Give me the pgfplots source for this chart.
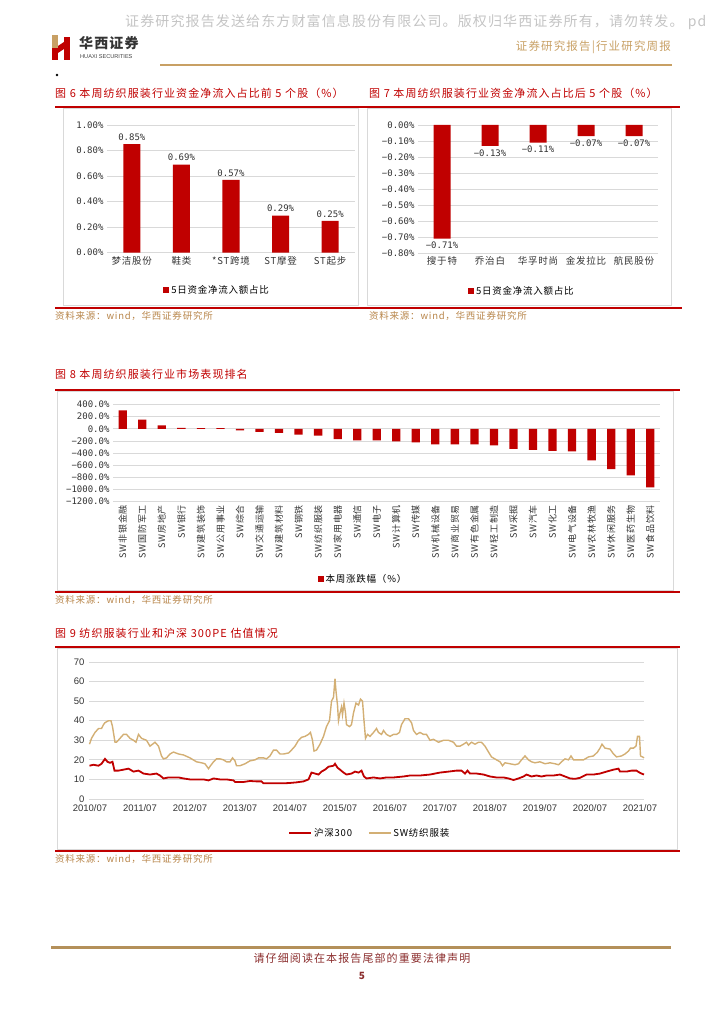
\documentclass[border=0pt]{standalone}
\usepackage{pgfplots}
\pgfplotsset{compat=1.18}
\usepackage{fontspec}
\setmainfont{Noto Sans CJK SC}
\newfontfamily\cjk{Noto Sans CJK SC}[LetterSpace=8]
\newfontfamily\cjkt{Noto Sans CJK SC}[LetterSpace=10]
\newfontfamily\numfont{DejaVu Sans Mono}
\newfontfamily\arialfont{Liberation Sans}
\definecolor{barred}{HTML}{C00000}
\definecolor{titlered}{HTML}{C00000}
\definecolor{linegold}{HTML}{D3AF74}
\definecolor{hgold}{HTML}{C8A064}
\definecolor{srcgold}{HTML}{B8864B}
\definecolor{footred}{HTML}{8B2E2E}
\definecolor{gridgray}{HTML}{D9D9D9}
\definecolor{wmgray}{HTML}{C4C4C4}
\pgfplotsset{
  barbase/.style={
    scale only axis, clip=false,
    axis line style={draw=none},
    major tick length=0pt,
    ymajorgrids, grid style={gridgray, line width=0.8pt},
    ticklabel style={font=\numfont\fontsize{9}{10}\selectfont, text=black!80},
    xticklabel style={font=\cjk\fontsize{9.5}{10}\selectfont},
    legend style={draw=none, fill=none, font=\cjk\fontsize{9.5}{10}\selectfont},
    legend cell align=left,
  },
  sqleg/.style={legend image code/.code={\fill[barred] (0pt,-3pt) rectangle (6pt,3pt);}},
}
\begin{document}
\begin{tikzpicture}[x=1pt,y=1pt]
\path[use as bounding box] (0,0) rectangle (724,1024);
% header
\node[anchor=west, inner sep=0, text=wmgray, font=\cjk\fontsize{14}{15}\selectfont] at (125,1002) {证券研究报告发送给东方财富信息股份有限公司。版权归华西证券所有，请勿转发。 pd};
\fill[hgold] (52,989) rectangle (58,976);
\fill[barred] (52,976) rectangle (58,964);
\fill[barred] (58,978) -- (64,982) -- (64,975) -- (58,971) -- cycle;
\fill[barred] (64,987) rectangle (70,964);
\node[anchor=west, inner sep=0, text=black!80, font=\cjk\bfseries\fontsize{14}{15}\selectfont] at (79,981) {华西证券};
\node[anchor=west, inner sep=0, text=black!75, font=\arialfont\fontsize{5.6}{6}\selectfont] at (80,967) {HUAXI SECURITIES};
\node[anchor=east, inner sep=0, text=hgold, font=\cjkt\fontsize{11.5}{12}\selectfont] at (671,977) {证券研究报告|行业研究周报};
\draw[hgold, line width=2.5pt] (160,959) -- (672,959);
\fill (57,949) circle (1.3);
% titles fig 6, 7
\node[anchor=west, inner sep=0, text=titlered, font=\cjkt\fontsize{11}{12}\selectfont] at (55,931) {图 6 本周纺织服装行业资金净流入占比前 5 个股（\%）};
\node[anchor=west, inner sep=0, text=titlered, font=\cjkt\fontsize{11}{12}\selectfont] at (369,931) {图 7 本周纺织服装行业资金净流入占比后 5 个股（\%）};
\draw[gridgray, line width=0.6pt] (63,719) rectangle (358,916);
\draw[gridgray, line width=0.6pt] (367,719) rectangle (671,916);
\draw[barred, line width=1.8pt] (55,917) -- (680,917);
\draw[barred, line width=1.8pt] (55,716) -- (682,716);
\node[anchor=west, inner sep=0, text=srcgold, font=\cjk\fontsize{9.5}{10}\selectfont] at (55,708) {资料来源：wind，华西证券研究所};
\node[anchor=west, inner sep=0, text=srcgold, font=\cjk\fontsize{9.5}{10}\selectfont] at (369,708) {资料来源：wind，华西证券研究所};
% fig 8
\node[anchor=west, inner sep=0, text=titlered, font=\cjkt\fontsize{11}{12}\selectfont] at (55,650) {图 8 本周纺织服装行业市场表现排名};
\draw[gridgray, line width=0.6pt] (57,434) rectangle (673,633);
\draw[barred, line width=1.8pt] (55,634) -- (680,634);
\draw[barred, line width=1.8pt] (55,432) -- (680,432);
\node[anchor=west, inner sep=0, text=srcgold, font=\cjk\fontsize{9.5}{10}\selectfont] at (55,424) {资料来源：wind，华西证券研究所};
% fig 9
\node[anchor=west, inner sep=0, text=titlered, font=\cjkt\fontsize{11}{12}\selectfont] at (55,391) {图 9 纺织服装行业和沪深 300PE 估值情况};
\draw[gridgray, line width=0.6pt] (57,175) rectangle (677,376);
\draw[barred, line width=1.8pt] (55,377) -- (680,377);
\draw[barred, line width=1.8pt] (55,173) -- (680,173);
\node[anchor=west, inner sep=0, text=srcgold, font=\cjk\fontsize{9.5}{10}\selectfont] at (55,165) {资料来源：wind，华西证券研究所};
% footer
\draw[hgold!90!black, line width=3pt] (51,76) -- (671,76);
\node[inner sep=0, text=footred, font=\cjkt\fontsize{11}{12}\selectfont] at (362,66) {请仔细阅读在本报告尾部的重要法律声明};
\node[inner sep=0, text=footred, font=\cjk\bfseries\fontsize{10}{11}\selectfont] at (362,48) {5};

% ---- chart 6
\begin{axis}[barbase, at={(107pt,771.3pt)}, anchor=south west,
  width=248pt, height=127.7pt,
  ybar, bar width=17pt,
  xmin=-0.5, xmax=4.5, ymin=0, ymax=1,
  xtick={0,1,2,3,4}, xticklabels={梦洁股份,鞋类,*ST跨境,ST摩登,ST起步},
  ytick={0,0.2,0.4,0.6,0.8,1},
  yticklabels={0.00\%,0.20\%,0.40\%,0.60\%,0.80\%,1.00\%},
  point meta=explicit symbolic,
  nodes near coords, nodes near coords style={font=\numfont\fontsize{9}{10}\selectfont, text=black!80},
  legend style={at={(0.444,-0.292)}, anchor=center},
]
\addplot[fill=barred, draw=none, sqleg] coordinates {(0,0.85)[0.85\%] (1,0.69)[0.69\%] (2,0.57)[0.57\%] (3,0.29)[0.29\%] (4,0.25)[0.25\%]};
\addlegendentry{5日资金净流入额占比}
\end{axis}

% ---- chart 7
\begin{axis}[barbase, at={(418pt,771pt)}, anchor=south west,
  width=240pt, height=128pt,
  ybar, bar width=17pt,
  xmin=-0.5, xmax=4.5, ymin=-0.8, ymax=0,
  xtick={0,1,2,3,4}, xticklabels={搜于特,乔治白,华孚时尚,金发拉比,航民股份},
  ytick={-0.8,-0.7,-0.6,-0.5,-0.4,-0.3,-0.2,-0.1,0},
  yticklabels={−0.80\%,−0.70\%,−0.60\%,−0.50\%,−0.40\%,−0.30\%,−0.20\%,−0.10\%,0.00\%},
  point meta=explicit symbolic,
  nodes near coords, nodes near coords style={font=\numfont\fontsize{9}{10}\selectfont, text=black!80, anchor=north},
  legend style={at={(0.433,-0.297)}, anchor=center},
]
\addplot[fill=barred, draw=none, sqleg] coordinates {(0,-0.71)[−0.71\%] (1,-0.13)[−0.13\%] (2,-0.11)[−0.11\%] (3,-0.07)[−0.07\%] (4,-0.07)[−0.07\%]};
\addlegendentry{5日资金净流入额占比}
\end{axis}

% ---- chart 8
\begin{axis}[barbase, at={(113pt,522.3pt)}, anchor=south west,
  width=547pt, height=97.2pt,
  ybar, bar width=8.3pt,
  xmin=-0.5, xmax=27.5, ymin=-1200, ymax=400,
  xtick={0,...,27},
  xticklabels={SW非银金融,SW国防军工,SW房地产,SW银行,SW建筑装饰,SW公用事业,SW综合,SW交通运输,SW建筑材料,SW钢铁,SW纺织服装,SW家用电器,SW通信,SW电子,SW计算机,SW传媒,SW机械设备,SW商业贸易,SW有色金属,SW轻工制造,SW采掘,SW汽车,SW化工,SW电气设备,SW农林牧渔,SW休闲服务,SW医药生物,SW食品饮料},
  xticklabel style={rotate=90, anchor=east, font=\cjk\fontsize{9}{10}\selectfont},
  ytick={-1200,-1000,-800,-600,-400,-200,0,200,400},
  yticklabels={−1200.0\%,−1000.0\%,−800.0\%,−600.0\%,−400.0\%,−200.0\%,0.0\%,200.0\%,400.0\%},
  legend style={at={(0.457,-0.795)}, anchor=center},
]
\addplot[fill=barred, draw=none, sqleg] coordinates {
(0,305) (1,150) (2,55) (3,15) (4,12) (5,10) (6,-28) (7,-50) (8,-67) (9,-94)
(10,-111) (11,-172) (12,-189) (13,-192) (14,-208) (15,-225) (16,-258) (17,-258)
(18,-258) (19,-274) (20,-329) (21,-345) (22,-362) (23,-373) (24,-521) (25,-663)
(26,-767) (27,-964)};
\addlegendentry{本周涨跌幅（\%）}
\end{axis}

% ---- chart 9
\begin{axis}[scale only axis, clip=false, at={(89pt,225pt)}, anchor=south west,
  width=555pt, height=137pt,
  axis line style={draw=none}, major tick length=0pt,
  ymajorgrids, grid style={gridgray, line width=0.8pt},
  xmin=-0.02, xmax=11.08, ymin=0, ymax=70,
  xtick={0,...,11},
  xticklabels={2010/07,2011/07,2012/07,2013/07,2014/07,2015/07,2016/07,2017/07,2018/07,2019/07,2020/07,2021/07},
  ytick={0,10,...,70},
  yticklabels={0,10,20,30,40,50,60,70},
  ticklabel style={font=\arialfont\fontsize{9.5}{10}\selectfont, text=black!80},
  xticklabel style={yshift=-2pt},
  yticklabel style={xshift=-1pt},
  legend style={draw=none, fill=none, at={(0.506,-0.248)}, anchor=center, font=\cjk\fontsize{9.5}{10}\selectfont},
  legend columns=2, /tikz/every even column/.append style={column sep=14pt},
  legend image code/.code={\draw[#1] (0pt,0pt) -- (22pt,0pt);},
]
\addplot[barred, line width=1.8pt] coordinates {
(-0.01,17) (0.07,17.5) (0.17,17) (0.23,18) (0.30,20.5) (0.35,19) (0.40,18.5) (0.45,19)
(0.49,14.5) (0.57,14.5) (0.67,15) (0.77,15.5) (0.87,14) (0.97,14.5) (1.07,13) (1.20,12.5)
(1.33,13) (1.40,12) (1.47,10.5) (1.57,11) (1.67,11) (1.77,11) (1.87,10.5) (2.00,10)
(2.13,10) (2.27,10) (2.37,9.5) (2.47,10.5) (2.60,10) (2.73,10) (2.87,9.5) (2.90,8.7)
(3.07,8.7) (3.20,9.2) (3.33,9) (3.43,9) (3.47,8) (3.67,8) (3.87,8) (4.00,8.2)
(4.13,8.5) (4.27,9) (4.37,10) (4.43,13.5) (4.50,13) (4.57,12.5) (4.63,14) (4.70,15)
(4.77,16.5) (4.87,17) (4.90,18) (4.95,16) (5.00,15) (5.07,13.5) (5.13,12.5) (5.23,13)
(5.30,14) (5.37,13.5) (5.43,14.5) (5.48,11.5) (5.53,10.5) (5.67,11) (5.80,10.5) (5.93,11)
(6.07,11) (6.27,11.5) (6.40,12) (6.60,12) (6.80,12.5) (7.00,13.5) (7.17,14) (7.33,14.5)
(7.43,14.5) (7.50,13) (7.55,14.5) (7.60,13) (7.73,13) (7.87,12.5) (8.00,11.5) (8.13,11)
(8.27,11) (8.37,10.5) (8.47,9.7) (8.57,10.5) (8.67,11.5) (8.73,12.5) (8.83,11.5) (8.93,12)
(9.03,11.5) (9.13,12) (9.27,12) (9.40,12.5) (9.50,11.5) (9.60,10.5) (9.70,10.3) (9.80,10.8)
(9.93,12.5) (10.07,12.5) (10.20,13) (10.33,14) (10.47,15) (10.57,15.5) (10.60,14) (10.73,14)
(10.83,14.5) (10.93,14.5) (10.99,13.5) (11.03,13) (11.08,12.5)};
\addlegendentry{沪深300}
\addplot[linegold, line width=1.4pt] coordinates {
(-0.01,28) (0.03,31) (0.10,34) (0.17,36) (0.23,36) (0.27,38) (0.30,39) (0.37,40)
(0.42,40) (0.45,37) (0.50,29) (0.53,29) (0.60,31) (0.67,33) (0.73,33) (0.80,31)
(0.87,30) (0.92,29) (0.97,33) (1.03,31) (1.13,30) (1.20,27) (1.30,29) (1.37,27)
(1.43,22) (1.47,20.5) (1.53,21) (1.60,23) (1.67,24) (1.77,23) (1.87,22.5) (2.00,21)
(2.13,19) (2.23,18.5) (2.30,18) (2.37,15.5) (2.41,17) (2.47,19) (2.53,20.5) (2.60,20.5)
(2.67,20) (2.73,19) (2.80,19) (2.85,21) (2.90,19.5) (2.93,17) (3.00,17) (3.10,18)
(3.20,19.5) (3.30,20) (3.37,21) (3.47,21) (3.53,20.5) (3.60,22) (3.67,25) (3.73,25)
(3.80,23) (3.87,23) (3.97,23.5) (4.03,25) (4.10,27) (4.17,30) (4.23,31.5) (4.30,32)
(4.37,33) (4.41,34) (4.45,30) (4.48,24.5) (4.53,25) (4.60,28) (4.67,32) (4.73,37)
(4.79,40) (4.83,50) (4.87,52) (4.90,61.5) (4.92,55) (4.95,48) (4.97,40) (5.00,44)
(5.03,47) (5.05,43) (5.08,49) (5.11,44) (5.13,38) (5.19,37) (5.23,38) (5.27,44)
(5.32,49) (5.37,48) (5.41,51) (5.45,50) (5.48,40) (5.51,31) (5.55,33) (5.60,32)
(5.67,34) (5.73,36) (5.77,34) (5.83,33) (5.87,35) (5.93,33) (6.00,32) (6.07,33)
(6.13,33) (6.19,34) (6.23,38) (6.30,41) (6.37,41) (6.43,39) (6.47,35) (6.53,33)
(6.60,34) (6.67,33) (6.73,33) (6.80,30) (6.87,30.5) (6.97,29) (7.07,30) (7.17,30)
(7.27,29) (7.33,27) (7.40,27) (7.47,28) (7.53,29) (7.57,27.5) (7.63,29) (7.70,28)
(7.77,29) (7.83,29) (7.90,27) (7.97,24) (8.03,21.5) (8.13,20) (8.20,19) (8.25,17)
(8.30,18.5) (8.40,18) (8.50,17.5) (8.57,18) (8.63,20) (8.70,22) (8.77,20) (8.83,19)
(8.90,18.5) (9.00,19) (9.10,18) (9.20,18.5) (9.30,18) (9.37,17.5) (9.43,19) (9.50,20.5)
(9.57,20) (9.62,22) (9.67,20) (9.77,20) (9.87,20) (9.97,21.5) (10.07,22) (10.15,24)
(10.20,26) (10.24,28) (10.30,26) (10.40,25.5) (10.47,23) (10.53,21.5) (10.63,22) (10.70,23)
(10.77,24.5) (10.81,26) (10.87,26) (10.92,27) (10.95,32) (10.99,32) (11.01,22) (11.05,21.5)
(11.08,21)};
\addlegendentry{SW纺织服装}
\end{axis}
\end{tikzpicture}
\end{document}
